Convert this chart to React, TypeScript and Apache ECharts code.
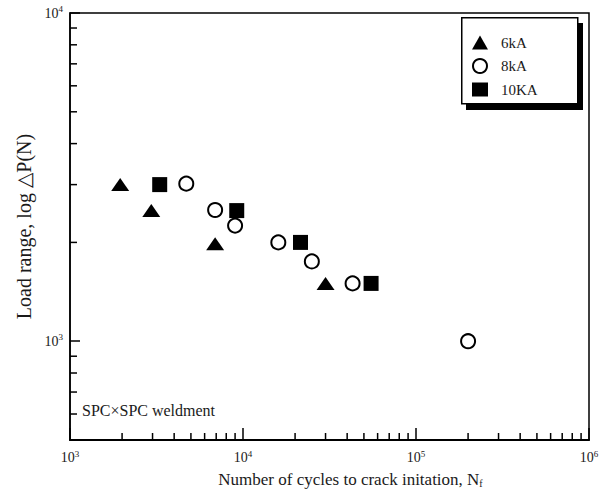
import React, { useEffect, useRef } from "react";
import * as echarts from "echarts";

const seriesNames = ["6kA", "8kA", "10KA"];
const cycles6kA = [1950, 2950, 6900, 30000];
const load6kA = [3000, 2500, 1980, 1500];
const cycles8kA = [4700, 6900, 9000, 16000, 25000, 43000, 200000];
const load8kA = [3020, 2510, 2250, 2000, 1750, 1500, 1000];
const cycles10kA = [3300, 9200, 21500, 55000];
const load10kA = [3000, 2500, 2000, 1500];

const xMin = 1000;
const xMax = 1000000;
const yMin = 500;
const yMax = 10000;

const xMinorTicks = [
  2000, 3000, 4000, 5000, 6000, 7000, 8000, 9000,
  20000, 30000, 40000, 50000, 60000, 70000, 80000, 90000,
  200000, 300000, 400000, 500000, 600000, 700000, 800000, 900000,
];
const yMinorTicks = [600, 700, 800, 900, 2000, 3000, 4000, 5000, 6000, 7000, 8000, 9000];

const annotation = "SPC×SPC weldment";
const xName = "Number of cycles to crack initation, N{sub|f}";
const yName = "Load range, log △P(N)";

const FONT = "'Liberation Serif', 'DejaVu Serif', serif";
const INK = "#1a1a1a";

function zip(xs: number[], ys: number[]) {
  return xs.map((x, i) => [x, ys[i]]);
}

function powLabel(v: number) {
  const e = Math.round(Math.log10(v));
  return `{b|10}{s|${e}}`;
}

const labelRich = {
  b: { fontSize: 14, fontFamily: FONT, color: INK },
  s: { fontSize: 9, fontFamily: FONT, color: INK, padding: [0, 0, 8, 0] },
};

function tickSeries(name: string, data: number[][], dir: "x" | "y") {
  return {
    type: "custom",
    name,
    coordinateSystem: "cartesian2d",
    silent: true,
    clip: false,
    z: 5,
    data,
    renderItem: (params: any, api: any) => {
      const p = api.coord([api.value(0), api.value(1)]);
      const len = 7;
      const shape =
        dir === "x"
          ? { x1: p[0], y1: p[1], x2: p[0], y2: p[1] - len }
          : { x1: p[0], y1: p[1], x2: p[0] + len, y2: p[1] };
      return { type: "line", shape, style: { stroke: "#000", lineWidth: 1.5 } };
    },
  };
}

export default function App() {
  const ref = useRef<HTMLDivElement>(null);
  useEffect(() => {
    if (!ref.current) return;
    const chart = echarts.init(ref.current, undefined, { renderer: "svg" });
    const markerStyle = { color: "#000", opacity: 1 };
    chart.setOption({
      animation: false,
      backgroundColor: "#fff",
      textStyle: { fontFamily: FONT, color: INK },
      grid: {
        left: 70,
        top: 13,
        right: 17,
        bottom: 50,
        show: true,
        borderColor: "#000",
        borderWidth: 1.5,
        backgroundColor: "transparent",
      },
      xAxis: {
        type: "log",
        logBase: 10,
        min: xMin,
        max: xMax,
        name: xName,
        nameLocation: "middle",
        nameGap: 31,
        nameTextStyle: {
          fontSize: 17,
          fontFamily: FONT,
          color: INK,
          padding: [0, 0, 0, 42],
          rich: {
            sub: { fontSize: 10, fontFamily: FONT, color: INK, padding: [6, 0, 0, 0], verticalAlign: "bottom" },
          },
        },
        axisLine: { show: true, lineStyle: { color: "#000", width: 2 } },
        axisTick: { show: true, inside: true, length: 12, lineStyle: { color: "#000", width: 1.5 } },
        axisLabel: { formatter: powLabel, rich: labelRich, color: INK, margin: 9 },
        splitLine: { show: false },
        minorTick: { show: false },
      },
      yAxis: {
        type: "log",
        logBase: 10,
        min: yMin,
        max: yMax,
        name: yName,
        nameLocation: "middle",
        nameGap: 33,
        nameTextStyle: { fontSize: 20, fontFamily: FONT, color: INK },
        axisLine: { show: true, lineStyle: { color: "#000", width: 1.5 } },
        axisTick: { show: true, inside: true, length: 10, lineStyle: { color: "#000", width: 1.5 } },
        axisLabel: { formatter: powLabel, rich: labelRich, color: INK, margin: 7, showMinLabel: false },
        splitLine: { show: false },
        minorTick: { show: false },
      },
      legend: {
        orient: "vertical",
        left: 472,
        top: 35,
        padding: 0,
        itemGap: 8,
        itemWidth: 16,
        itemHeight: 14,
        textStyle: { fontSize: 15, fontFamily: FONT, color: INK, padding: [0, 0, 0, 8] },
        data: [
          { name: seriesNames[0], icon: "triangle" },
          { name: seriesNames[1], icon: "circle" },
          { name: seriesNames[2], icon: "rect" },
        ],
        z: 10,
      },
      graphic: [
        {
          type: "rect",
          left: 466,
          top: 23,
          z: 8,
          shape: { width: 117, height: 87 },
          style: { fill: "#000" },
        },
        {
          type: "rect",
          left: 461,
          top: 17,
          z: 9,
          shape: { width: 116, height: 86 },
          style: { fill: "#fff", stroke: "#000", lineWidth: 1.5 },
        },
        {
          type: "text",
          left: 82,
          top: 402,
          z: 9,
          style: { text: annotation, fontSize: 16, fontFamily: FONT, fill: INK },
        },
      ],
      series: [
        {
          name: seriesNames[0],
          type: "scatter",
          symbol: "triangle",
          symbolSize: [18, 13],
          itemStyle: markerStyle,
          data: zip(cycles6kA, load6kA),
          z: 3,
        },
        {
          name: seriesNames[1],
          type: "scatter",
          symbol: "circle",
          symbolSize: 14,
          itemStyle: { color: "#fff", borderColor: "#000", borderWidth: 2, opacity: 1 },
          data: zip(cycles8kA, load8kA),
          z: 3,
        },
        {
          name: seriesNames[2],
          type: "scatter",
          symbol: "rect",
          symbolSize: 15,
          itemStyle: markerStyle,
          data: zip(cycles10kA, load10kA),
          z: 3,
        },
        tickSeries("xMinor", xMinorTicks.map((v) => [v, yMin]), "x"),
        tickSeries("yMinor", yMinorTicks.map((v) => [xMin, v]), "y"),
      ],
    });
    return () => chart.dispose();
  }, []);
  return (
    <div
      ref={ref}
      style={{ position: "absolute", left: 0, top: 0, width: 606, height: 493 }}
    />
  );
}
